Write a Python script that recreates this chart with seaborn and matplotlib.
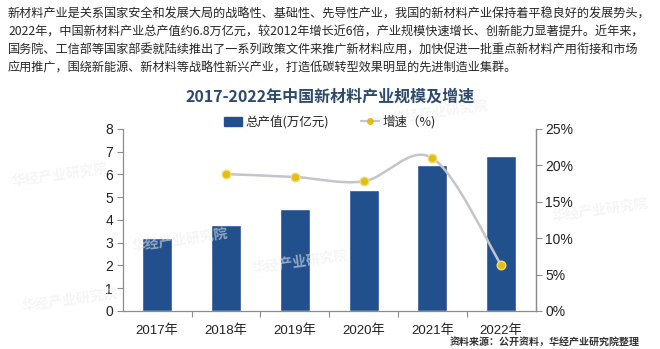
import numpy as np
import pandas as pd
import matplotlib
matplotlib.use("Agg")
import matplotlib.pyplot as plt
import seaborn as sns
from matplotlib.path import Path
from matplotlib.patches import PathPatch, Patch
from matplotlib.lines import Line2D
from matplotlib.ticker import FuncFormatter, FixedLocator

# ---- data ----
years = ["2017年", "2018年", "2019年", "2020年", "2021年", "2022年"]
output_value = [3.2, 3.8, 4.5, 5.3, 6.4, 6.8]          # 总产值 (万亿元)
growth_rate = [np.nan, 18.8, 18.4, 17.8, 21.0, 6.3]     # 增速 (%)

title = "2017-2022年中国新材料产业规模及增速"
bar_label = "总产值(万亿元)"
line_label = "增速（%)"
source = "资料来源：公开资料，华经产业研究院整理"
intro_lines = [
    "新材料产业是关系国家安全和发展大局的战略性、基础性、先导性产业，我国的新材料产业保持着平稳良好的发展势头，",
    "2022年，中国新材料产业总产值约6.8万亿元，较2012年增长近6倍，产业规模快速增长、创新能力显著提升。近年来，",
    "国务院、工信部等国家部委就陆续推出了一系列政策文件来推广新材料应用，加快促进一批重点新材料产用衔接和市场",
    "应用推广，围绕新能源、新材料等战略性新兴产业，打造低碳转型效果明显的先进制造业集群。",
]

BAR = "#22508D"
TITLE = "#2C4A6E"
LINE = "#C3C4CC"
DOT = "#E3BD17"
DOT_EDGE = "#F3DC72"
AXIS = "#8C8C8C"

sns.set_theme(style="white")
plt.rcParams["font.family"] = ["Liberation Sans", "Noto Sans CJK SC", "DejaVu Sans"]
CJK = ["Noto Sans CJK SC", "DejaVu Sans"]

fig = plt.figure(figsize=(6.6, 3.49), dpi=100)
ax = fig.add_axes([0.186, 0.109, 0.6255, 0.5215])

df = pd.DataFrame({"year": years, "value": output_value, "growth": growth_rate})

sns.barplot(data=df, x="year", y="value", color=BAR, width=0.435,
            saturation=1, ax=ax, zorder=2)
ax.set_xlim(-0.5, 5.5)
ax.set_ylim(0, 8)
ax.set_yticks(range(0, 9))
ax.set_xlabel("")
ax.set_ylabel("")

ax.spines["top"].set_visible(False)
for side in ["left", "bottom", "right"]:
    ax.spines[side].set_color(AXIS)
    ax.spines[side].set_linewidth(0.9)

ax.tick_params(axis="y", which="major", left=True, length=4, width=0.8,
               color=AXIS, labelsize=10, labelcolor="#222222", pad=3)
ax.tick_params(axis="x", which="major", bottom=False, labelsize=9.5,
               labelcolor="#222222", pad=4)
ax.xaxis.set_minor_locator(FixedLocator(np.arange(0.5, 5.0, 1.0)))
ax.tick_params(axis="x", which="minor", bottom=True, length=4, width=0.8,
               color=AXIS)

# secondary axis for growth rate
ax2 = ax.twinx()
ax2.set_ylim(0, 25)
ax2.set_yticks(range(0, 30, 5))
ax2.yaxis.set_major_formatter(FuncFormatter(lambda v, p: f"{int(v)}%"))
ax2.tick_params(axis="y", right=True, length=4, width=0.8, color=AXIS,
                labelsize=10, labelcolor="#222222", pad=3)
for side in ["top", "left", "bottom"]:
    ax2.spines[side].set_visible(False)
ax2.spines["right"].set_color(AXIS)
ax2.spines["right"].set_linewidth(0.9)
ax2.grid(False)
ax.grid(False)

# smoothed growth line (Catmull-Rom style cubic Bezier in display space)
g = df.dropna(subset=["growth"])
xs = g.index.to_numpy(dtype=float)
ys = g["growth"].to_numpy(dtype=float)
pts = ax2.transData.transform(np.column_stack([xs, ys]))
n = len(pts)
verts = [pts[0]]
codes = [Path.MOVETO]
for i in range(n - 1):
    p0 = pts[i - 1] if i > 0 else pts[i]
    p1 = pts[i]
    p2 = pts[i + 1]
    p3 = pts[i + 2] if i + 2 < n else pts[i + 1]
    c1 = p1 + (p2 - p0) / 6.0
    c2 = p2 - (p3 - p1) / 6.0
    verts += [c1, c2, p2]
    codes += [Path.CURVE4] * 3
verts = ax2.transData.inverted().transform(np.array(verts))
ax2.add_patch(PathPatch(Path(verts, codes), facecolor="none", edgecolor=LINE,
                        linewidth=1.8, zorder=3))
sns.scatterplot(data=g, x=g.index, y="growth", ax=ax2, color=DOT, s=38,
                edgecolor=DOT_EDGE, linewidth=1.0, zorder=4, legend=False)
ax2.set_xlim(-0.5, 5.5)
ax2.set_ylabel("")
ax2.set_xlabel("")

# legend
handles = [
    Patch(facecolor=BAR, edgecolor=BAR),
    Line2D([0], [0], color=LINE, lw=1.6, marker="o", markersize=4,
           markerfacecolor=DOT, markeredgecolor=DOT),
]
fig.legend(handles, [bar_label, line_label], loc="center",
           bbox_to_anchor=(0.5, 1 - 122 / 349), ncol=2, frameon=False,
           prop={"family": CJK, "size": 9}, handlelength=1.4,
           handleheight=0.8, handletextpad=0.3, columnspacing=2.6)

# title
fig.text(0.5, 1 - 97 / 349, title, ha="center", va="center",
         fontsize=11.5, fontweight="bold", color=TITLE, family=CJK)

# introductory paragraph
for i, line in enumerate(intro_lines):
    fig.text(8 / 660, 1 - (14 + 18 * i) / 349, line, ha="left", va="center",
             fontsize=8.75, color="#262626", family=CJK)

# source note
fig.text(640 / 660, 1 - 342 / 349, source, ha="right", va="center",
         fontsize=7.2, fontweight="bold", color="#333333", family=CJK)

# faint brand marks in the background
marks = [(60, 175), (70, 300), (600, 210), (300, 262), (440, 112), (180, 240)]
for mx, my in marks:
    fig.text(mx / 660, 1 - my / 349, "华经产业研究院", ha="center", va="center",
             fontsize=10, fontweight="bold", color="#EEEEEE", alpha=0.55,
             rotation=8, family=CJK, zorder=0)

fig.savefig("out.png", dpi=100)
